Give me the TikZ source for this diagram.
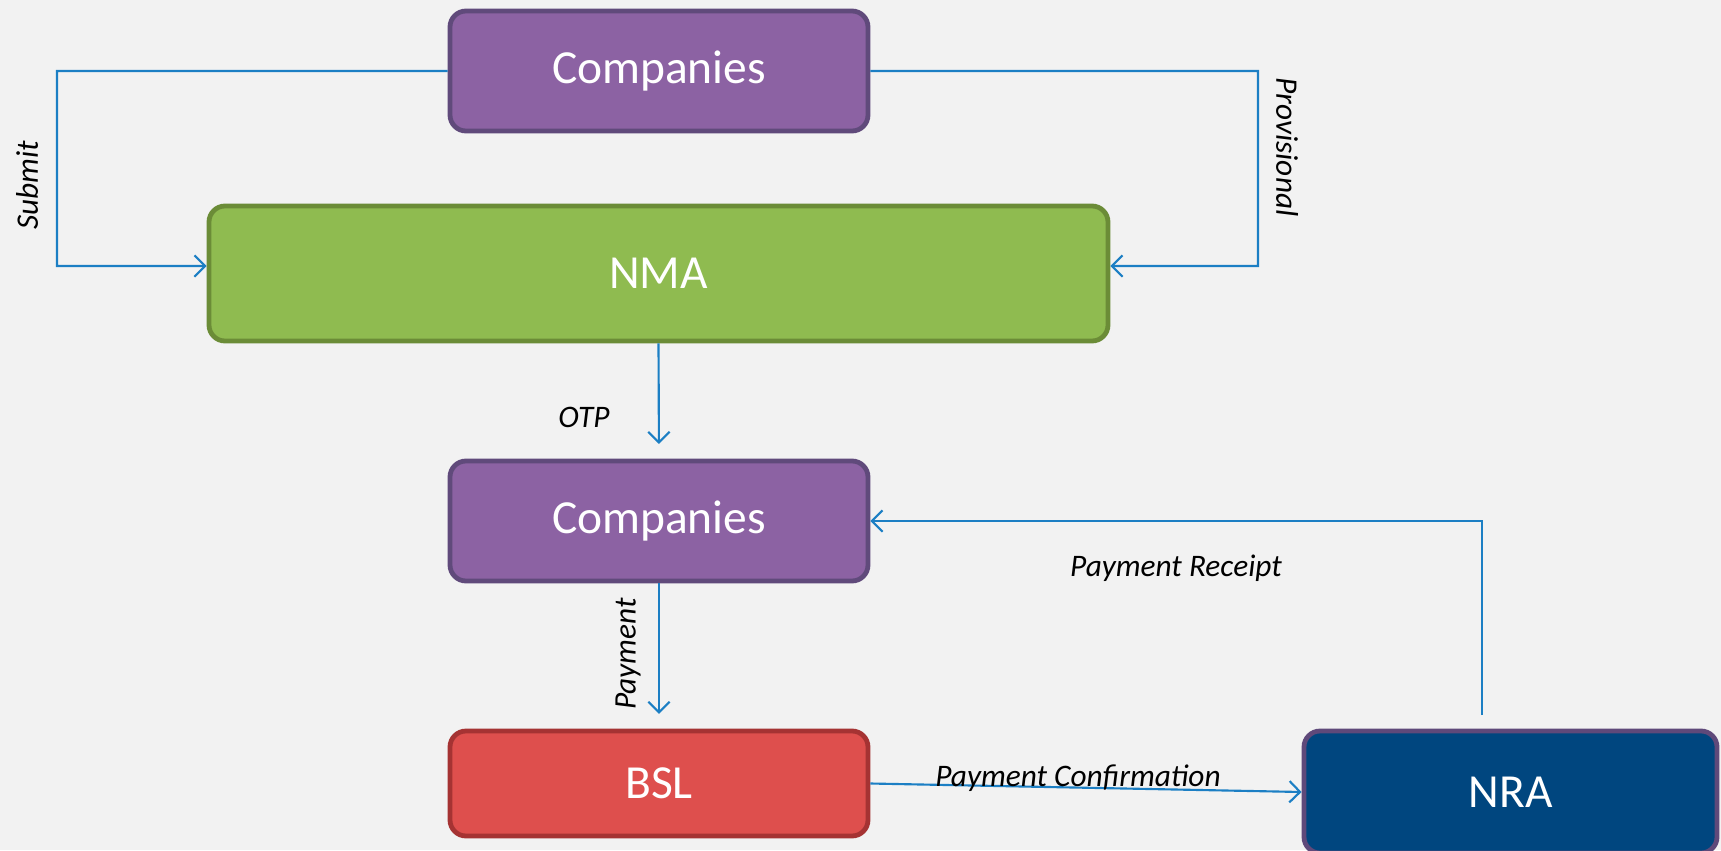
\documentclass[tikz,border=0pt]{standalone}
\usepackage{fontspec}
\setmainfont{Carlito}
\usetikzlibrary{arrows.meta}
\definecolor{bg}{HTML}{F2F2F2}
\definecolor{purfill}{HTML}{8C62A3}
\definecolor{purline}{HTML}{604A7B}
\definecolor{grnfill}{HTML}{8FBB50}
\definecolor{grnline}{HTML}{6B8C37}
\definecolor{redfill}{HTML}{DE4F4D}
\definecolor{redline}{HTML}{A53333}
\definecolor{nrafill}{HTML}{00467F}
\definecolor{nraline}{HTML}{5F497A}
\definecolor{conn}{HTML}{1C7FC4}
\tikzset{
  box/.style={draw, line width=3.6pt, rounded corners=12pt, inner sep=0pt,
    text=white, font=\fontsize{35.6}{40}\selectfont},
  purbox/.style={box, fill=purfill, draw=purline, minimum width=313.5pt, minimum height=90pt},
  lab/.style={inner sep=0pt, font=\fontsize{23.5}{26}\selectfont\itshape, text=black},
  connline/.style={draw=conn, line width=1.6pt,
    -{Straight Barb[length=8pt,width=16pt,line width=1.6pt]}}
}
\begin{document}
\begin{tikzpicture}[x=0.75pt,y=-0.75pt]
\clip (0,0) rectangle (1721,850);
\fill[bg] (0,0) rectangle (1721,850);
\node[purbox] (c1) at (659,71) {\raisebox{-3pt}{Companies}};
\node[box, fill=grnfill, draw=grnline, minimum width=674.25pt, minimum height=101.25pt] (nma) at (658.5,273.5) {NMA};
\node[purbox] (c2) at (659,521) {\raisebox{-3pt}{Companies}};
\node[box, fill=redfill, draw=redline, minimum width=313.5pt, minimum height=78.75pt] (bsl) at (659,783.5) {BSL};
\node[box, fill=nrafill, draw=nraline, minimum width=309.75pt, minimum height=91.5pt] (nra) at (1510.5,792) {NRA};

\coordinate (sA) at (57,266);
\coordinate (pA) at (1258,266);
\coordinate (rA) at (1482,715);

\draw[connline] (c1.west) -| (sA) -- ([yshift=5.6pt]nma.west);
\draw[connline] (c1.east) -| (pA) -- ([yshift=5.6pt]nma.east);
\draw[connline, shorten >=11pt] (nma.south) -- (c2.north);
\draw[connline, shorten >=11pt] (c2.south) -- (bsl.north);
\draw[connline] (rA) |- (c2.east);
\draw[connline] (bsl.east) -- (nra.west);

\node[lab, rotate=90] (lsubmit) at (27,185) {Submit};
\node[lab, rotate=-90] (lprov) at (1287,147) {Provisional};
\node[lab] (lotp) at (584,417) {OTP};
\node[lab, rotate=90] (lpay) at (628,654) {Payment};
\node[lab] (lrec) at (1176,568) {Payment Receipt};
\node[lab] (lconf) at (1078,778) {Payment Confirmation};
\end{tikzpicture}
\end{document}
